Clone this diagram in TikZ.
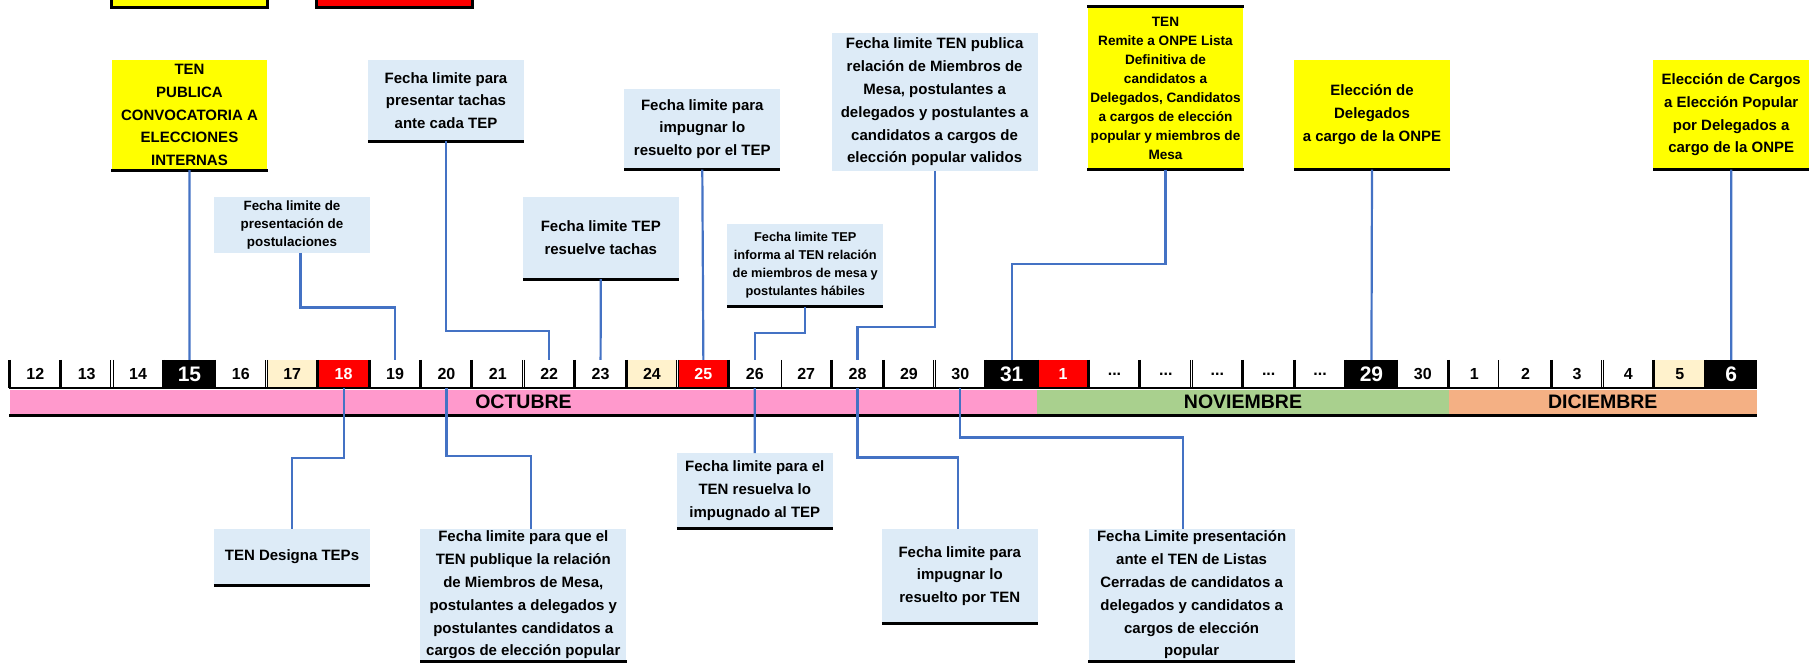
\documentclass[tikz,border=0pt]{standalone}
\usepackage{fontspec}
\setmainfont{Liberation Sans}

\definecolor{celeste}{HTML}{DDEBF7}
\definecolor{amarillo}{HTML}{FFFF00}
\definecolor{rosa}{HTML}{FF99CC}
\definecolor{verde}{HTML}{A9D08E}
\definecolor{naranja}{HTML}{F4B084}
\definecolor{crema}{HTML}{FFF2CC}
\definecolor{rojo}{HTML}{FF0000}
\definecolor{azulenlace}{HTML}{4472C4}

\newcommand{\ptos}{...}

\tikzset{
	caja/.style={fill=celeste, align=center, inner sep=0pt, minimum width=155.7pt, font=\bfseries\fontsize{15}{22.8}\selectfont},
	amarilla/.style={caja, fill=amarillo},
	chica/.style={font=\bfseries\fontsize{13.4}{17.8}\selectfont},
	ancha/.style={minimum width=206pt},
	raya/.style={line width=2.7pt},
	enlace/.style={draw=azulenlace, line width=2.2pt},
	dia/.style={fill=white, inner sep=0pt, minimum width=51.39pt, minimum height=28pt, font=\bfseries\fontsize{16}{16}\selectfont},
	blanco/.style={},
	crema/.style={fill=crema},
	rojo/.style={fill=rojo, text=white},
	negro/.style={fill=black, text=white, font=\bfseries\fontsize{21}{21}\selectfont},
	sep/.style={line width=3pt},
	sepdoble/.style={double, line width=0.9pt, double distance=1.6pt},
	mes/.style={inner sep=0pt, minimum height=24pt, font=\bfseries\fontsize{19.5}{19.5}\selectfont},
	leyenda/.style={draw, line width=3pt, minimum width=156pt, minimum height=50pt}
}

\begin{document}
\begin{tikzpicture}[x=1pt, y=-1pt]
	\useasboundingbox (0,0) rectangle (1815,664);

	% leyenda (cortada arriba)
	\node[leyenda, fill=amarillo] (leyenda1) at (189,-18) {};
	\node[leyenda, fill=rojo] (leyenda2) at (394.5,-18) {};

	% dias
	\foreach \t/\e/\n/\s [count=\i from 0] in {12/blanco/o12/sep, 13/blanco/o13/sep, 14/blanco/o14/sepdoble, 15/negro/o15/sep,
			16/blanco/o16/sep, 17/crema/o17/sepdoble, 18/rojo/o18/sep, 19/blanco/o19/sep, 20/blanco/o20/sep,
			21/blanco/o21/sep, 22/blanco/o22/sepdoble, 23/blanco/o23/sep, 24/crema/o24/sep, 25/rojo/o25/sepdoble,
			26/blanco/o26/sep, 27/blanco/o27/sepdoble, 28/blanco/o28/sep, 29/blanco/o29/sep, 30/blanco/o30/sepdoble,
			31/negro/o31/sep, 1/rojo/n1/sep, \ptos/blanco/n2/sep, \ptos/blanco/n3/sep, \ptos/blanco/n4/sepdoble,
			\ptos/blanco/n5/sep, \ptos/blanco/n6/sep, 29/negro/n29/sep, 30/blanco/n30/sep, 1/blanco/d1/sep,
			2/blanco/d2/sepdoble, 3/blanco/d3/sep, 4/blanco/d4/sepdoble, 5/crema/d5/sep, 6/negro/d6/sep} {
		\node[dia, \e] (\n) at ({9.6+51.39*(\i+0.5)}, 374) {\t};
		\draw[\s] (\n.north west) -- (\n.south west);
	}

	% meses
	\node[mes, fill=rosa, minimum width=1027.8pt] (octubre) at (523.5,402) {OCTUBRE};
	\node[mes, fill=verde, minimum width=411.1pt] (noviembre) at (1243,402) {NOVIEMBRE};
	\node[mes, fill=naranja, minimum width=308.4pt] (diciembre) at (1602.7,402) {DICIEMBRE};
	\draw[line width=2.5pt] (o12.south west) -- (d6.south east);
	\draw[line width=3pt] ([yshift=-1.5pt]octubre.south west) -- ([yshift=-1.5pt]diciembre.south east);

	% cajas de arriba
	\node[amarilla, minimum height=110pt] (convocatoria) at (189.5,115) {TEN\\PUBLICA\\CONVOCATORIA A\\ELECCIONES\\INTERNAS};
	\node[caja, chica, minimum height=55.4pt] (postulaciones) at (292,225) {Fecha limite de\\presentación de\\postulaciones};
	\node[caja, minimum height=81pt] (tachas) at (446,100.5) {Fecha limite para\\presentar tachas\\ante cada TEP};
	\node[caja, minimum height=82pt] (resuelve) at (600.8,238) {Fecha limite TEP\\resuelve tachas};
	\node[caja, minimum height=81pt] (impugnartep) at (702.3,129) {Fecha limite para\\impugnar lo\\resuelto por el TEP};
	\node[caja, font=\bfseries\fontsize{12.8}{17.7}\selectfont, minimum height=82.5pt] (informa) at (805.3,265.2) {Fecha limite TEP\\informa al TEN relación\\de miembros de mesa y\\postulantes hábiles};
	\node[caja, ancha, minimum height=137.4pt] (validos) at (934.6,102) {Fecha limite TEN publica\\relación de Miembros de\\Mesa,  postulantes a\\delegados y postulantes a\\candidatos a cargos de\\elección popular validos};
	\node[amarilla, font=\bfseries\fontsize{13.6}{19}\selectfont, minimum height=163pt] (remite) at (1165.5,88) {TEN\\Remite a ONPE Lista\\Definitiva de\\candidatos a\\Delegados, Candidatos\\a cargos de elección\\popular y miembros de\\Mesa};
	\node[amarilla, minimum height=109.5pt] (delegados) at (1372,114.7) {Elección de\\Delegados\\a cargo de la ONPE};
	\node[amarilla, minimum height=109.5pt] (cargos) at (1731.2,114.7) {Elección de Cargos\\a Elección Popular\\por Delegados a\\cargo de la ONPE};

	% cajas de abajo
	\node[caja, minimum height=56pt] (designa) at (292,557) {TEN Designa TEPs};
	\node[caja, ancha, minimum height=132pt] (publique) at (523.3,595) {Fecha limite para que el\\TEN publique la relación\\de Miembros de Mesa,\\postulantes a delegados y\\postulantes candidatos a\\cargos de elección popular};
	\node[caja, minimum height=75pt] (resuelva) at (754.8,490.8) {Fecha limite para el\\TEN resuelva  lo\\impugnado al TEP};
	\node[caja, minimum height=94.5pt] (impugnarten) at (959.8,576) {Fecha limite para\\impugnar lo\\resuelto por TEN};
	\node[caja, ancha, minimum height=132pt] (listas) at (1191.6,595) {Fecha Limite presentación\\ante el TEN de Listas\\Cerradas de candidatos a\\delegados y candidatos a\\cargos de elección\\popular};

	% rayas negras
	\foreach \c in {convocatoria, tachas, resuelve, impugnartep, informa, remite, delegados, cargos,
			designa, publique, resuelva, impugnarten, listas}
		\draw[raya] (\c.south west) -- (\c.south east);
	\draw[raya] (remite.north west) -- (remite.north east);

	% enlaces
	\draw[enlace] (convocatoria.south) -- (o15.north);
	\draw[enlace] ([xshift=8.5pt]postulaciones.south) -- ++(0,54.6) -| (o19.north);
	\draw[enlace] (tachas.south) -- ++(0,190) -| (o22.north);
	\draw[enlace] (resuelve.south) -- (o23.north);
	\draw[enlace] (impugnartep.south) -- (o25.north);
	\draw[enlace] (informa.south) -- ++(0,26.5) -| (o26.north);
	\draw[enlace] (validos.south) -- ++(0,156) -| (o28.north);
	\draw[enlace] (remite.south) -- ++(0,94) -| (o31.north);
	\draw[enlace] (delegados.south) -- (n29.north);
	\draw[enlace] (cargos.south) -- (d6.north);

	\draw[enlace] (o18.south) -- ++(0,69.7) -| (designa.north);
	\draw[enlace] (o20.south) -- ++(0,68) -| ([xshift=7.7pt]publique.north);
	\draw[enlace] (o26.south) -- (resuelva.north);
	\draw[enlace] (o28.south) -- ++(0,69.3) -| ([xshift=-2.2pt]impugnarten.north);
	\draw[enlace] (o30.south) -- ++(0,49.3) -| ([xshift=-9pt]listas.north);
\end{tikzpicture}
\end{document}
